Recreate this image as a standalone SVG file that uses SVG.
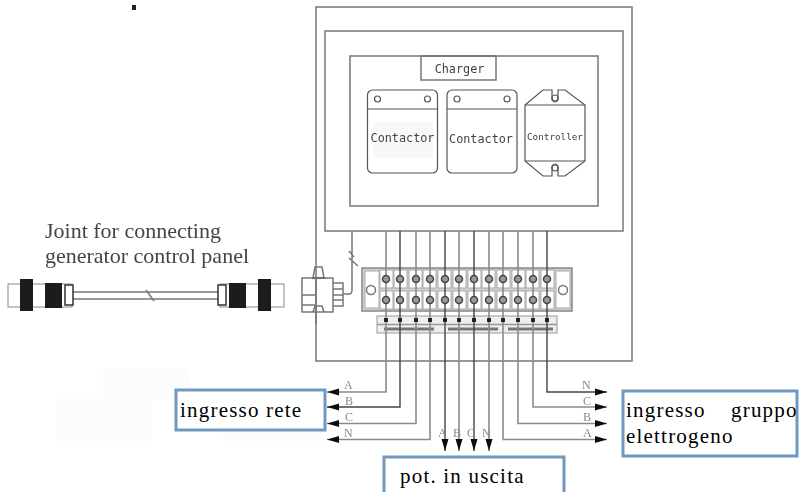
<svg xmlns="http://www.w3.org/2000/svg" width="800" height="492" viewBox="0 0 800 492">
<defs>
<style>
.b{fill:none;stroke:#777;stroke-width:1.5}
.d{fill:none;stroke:#555;stroke-width:1.2}
.w{fill:none;stroke:#8a8a8a;stroke-width:1.6}
.k{fill:none;stroke:#444;stroke-width:1.4}
.blk{fill:#1c1c1c}
.mono{font-family:"DejaVu Sans Mono","Liberation Mono",monospace;fill:#444}
.ser{font-family:"Liberation Serif","Times New Roman",serif}
.lab{font-size:21px;fill:#000;letter-spacing:1.2px}
.sm{font-size:12px;fill:#888}
.box{fill:#fff;stroke:#6f99c0;stroke-width:3}
.t{fill:#fff;stroke:#aaa;stroke-width:1}
.s{fill:#d0d0d0;stroke:#888;stroke-width:1.5}
</style>
<filter id="soft" x="-5%" y="-5%" width="110%" height="110%"><feGaussianBlur stdDeviation="0.5"/></filter>
<marker id="ah" markerUnits="userSpaceOnUse" markerWidth="13" markerHeight="8" refX="12" refY="4" orient="auto"><path d="M0 0.500L12 4L0 7.500z" fill="#111"/></marker>
</defs>
<rect width="800" height="492" fill="#fff"/>
<g fill="#fcfcfc"><rect x="103" y="369" width="87" height="30"/><rect x="57" y="399" width="94" height="42"/><rect x="223" y="431" width="100" height="10"/></g>
<g filter="url(#soft)">
<rect x="132" y="5" width="4" height="5" fill="#222"/>
<g id="enclosure"><rect class="b" x="316" y="7" width="316" height="354"/><rect class="b" x="325" y="31" width="298" height="200"/><rect class="b" x="350" y="56" width="248" height="150"/></g>
<g id="charger"><rect class="b" x="421" y="56" width="75" height="24" fill="#fff"/><text class="mono" x="459.500" y="73" font-size="11.800" text-anchor="middle">Charger</text></g>
<g id="contactor1"><rect class="d" x="367.500" y="90" width="70" height="83" rx="5"/><path class="d" d="M367.500 109H437.500"/><circle class="d" cx="377.500" cy="99" r="3"/><circle class="d" cx="427.500" cy="99" r="3"/><rect x="373" y="122" width="60" height="36" fill="#f8f8f8"/><text class="mono" x="402.500" y="142" font-size="11.800" text-anchor="middle">Contactor</text></g>
<g id="contactor2"><rect class="d" x="447" y="90" width="70" height="83" rx="5"/><path class="d" d="M447 109H517"/><circle class="d" cx="457" cy="99" r="3"/><circle class="d" cx="507" cy="99" r="3"/><text class="mono" x="481" y="143" font-size="11.800" text-anchor="middle">Contactor</text></g>
<g id="controller"><path class="d" d="M525 105L543 90H552V100Q555 104 558 100V90H565L585 105V161L565 176H558V166Q555 162 552 166V176H543L525 161Z"/><path class="d" d="M525 105H585M525 161H585"/><circle class="d" cx="555" cy="98" r="3"/><circle class="d" cx="555" cy="168" r="3"/><text class="mono" x="555" y="140" font-size="9.300" text-anchor="middle">Controller</text></g>
<g id="cable"><path class="b" d="M73 292H218M73 299H218M146 290L154 301"/><rect x="8" y="284" width="64" height="23" fill="#fff" stroke="#888"/><rect x="20" y="279" width="13" height="32" class="blk"/><rect x="45" y="283" width="17" height="25" class="blk"/><rect x="65" y="285" width="8" height="20" fill="#fff" stroke="#333" stroke-width="1.500"/><rect x="220" y="284" width="64" height="23" fill="#fff" stroke="#888"/><rect x="229" y="283" width="17" height="25" class="blk"/><rect x="258" y="279" width="13" height="32" class="blk"/><rect x="218" y="285" width="8" height="20" fill="#fff" stroke="#333" stroke-width="1.500"/></g>
<g id="plug"><path class="b" d="M315 267H322L324 278H313ZM313 312L315 306H322L324 312"/><rect class="d" x="302" y="278" width="31" height="34" fill="#fff"/><path class="b" d="M316 278V324M302 295H316M302 305H316"/><path class="b" d="M333 283H343V306H333M333 289H343M333 295H343M333 300H343"/><path class="b" d="M343 294H349Q352 294 352 290V231M349 251L354 257M349 258L358 266"/></g>
<g id="terminal-block"><rect class="s" x="362" y="268" width="210" height="43"/><rect class="t" x="365" y="271" width="14" height="37"/><rect class="t" x="556" y="271" width="14" height="37"/><circle cx="371" cy="290" r="4.500" fill="#fff" stroke="#777" stroke-width="1.500"/><circle cx="563" cy="290" r="4.500" fill="#fff" stroke="#777" stroke-width="1.500"/></g>
<g id="terminals" fill="#fff" stroke="#aaa"><rect x="380" y="270" width="13" height="18"/><rect x="394" y="270" width="13" height="18"/><rect x="409" y="270" width="13" height="18"/><rect x="423" y="270" width="13" height="18"/><rect x="438" y="270" width="13" height="18"/><rect x="453" y="270" width="13" height="18"/><rect x="468" y="270" width="13" height="18"/><rect x="482" y="270" width="13" height="18"/><rect x="497" y="270" width="13" height="18"/><rect x="512" y="270" width="13" height="18"/><rect x="526" y="270" width="13" height="18"/><rect x="541" y="270" width="13" height="18"/><rect x="380" y="291" width="13" height="18"/><rect x="394" y="291" width="13" height="18"/><rect x="409" y="291" width="13" height="18"/><rect x="423" y="291" width="13" height="18"/><rect x="438" y="291" width="13" height="18"/><rect x="453" y="291" width="13" height="18"/><rect x="468" y="291" width="13" height="18"/><rect x="482" y="291" width="13" height="18"/><rect x="497" y="291" width="13" height="18"/><rect x="512" y="291" width="13" height="18"/><rect x="526" y="291" width="13" height="18"/><rect x="541" y="291" width="13" height="18"/></g>
<g id="strip"><rect x="377" y="316" width="180" height="17" fill="#eee" stroke="#999"/><path d="M377 324.500H557" stroke="#999" stroke-width="1.500"/><path d="M384 329H434M448 329H498M508 329H553" stroke="#777" stroke-width="3"/></g>
<g id="connectors">
<path class="w" d="M386 231V392H327" marker-end="url(#ah)"/>
<path class="k" d="M400 231V407H327" marker-end="url(#ah)"/>
<path class="w" d="M416 231V423.500H327" marker-end="url(#ah)"/>
<path class="w" d="M430 231V439.500H327" marker-end="url(#ah)"/>
<path class="k" d="M445 231V451" marker-end="url(#ah)"/>
<path class="w" d="M459 231V451" marker-end="url(#ah)"/>
<path class="k" d="M474 231V451" marker-end="url(#ah)"/>
<path class="w" d="M489 231V451" marker-end="url(#ah)"/>
<path class="w" d="M503 231V439.500H607" marker-end="url(#ah)"/>
<path class="w" d="M518 231V423.500H607" marker-end="url(#ah)"/>
<path class="w" d="M533 231V407H607" marker-end="url(#ah)"/>
<path class="k" d="M547 231V392H607" marker-end="url(#ah)"/>
</g>
<g id="strip-marks" fill="#222"><rect x="384" y="318" width="4" height="4"/><rect x="398" y="318" width="4" height="4"/><rect x="414" y="318" width="4" height="4"/><rect x="428" y="318" width="4" height="4"/><rect x="443" y="318" width="4" height="4"/><rect x="457" y="318" width="4" height="4"/><rect x="472" y="318" width="4" height="4"/><rect x="487" y="318" width="4" height="4"/><rect x="501" y="318" width="4" height="4"/><rect x="516" y="318" width="4" height="4"/><rect x="531" y="318" width="4" height="4"/><rect x="545" y="318" width="4" height="4"/></g>
<g id="screws" fill="#999" stroke="#444" stroke-width="1.500"><circle cx="386" cy="279" r="3.500"/><circle cx="400" cy="279" r="3.500"/><circle cx="416" cy="279" r="3.500"/><circle cx="430" cy="279" r="3.500"/><circle cx="445" cy="279" r="3.500"/><circle cx="459" cy="279" r="3.500"/><circle cx="474" cy="279" r="3.500"/><circle cx="489" cy="279" r="3.500"/><circle cx="503" cy="279" r="3.500"/><circle cx="518" cy="279" r="3.500"/><circle cx="533" cy="279" r="3.500"/><circle cx="547" cy="279" r="3.500"/><circle cx="386" cy="300" r="3.500"/><circle cx="400" cy="300" r="3.500"/><circle cx="416" cy="300" r="3.500"/><circle cx="430" cy="300" r="3.500"/><circle cx="445" cy="300" r="3.500"/><circle cx="459" cy="300" r="3.500"/><circle cx="474" cy="300" r="3.500"/><circle cx="489" cy="300" r="3.500"/><circle cx="503" cy="300" r="3.500"/><circle cx="518" cy="300" r="3.500"/><circle cx="533" cy="300" r="3.500"/><circle cx="547" cy="300" r="3.500"/></g>
<g class="ser sm"><text x="344" y="389">A</text><text x="345" y="405">B</text><text x="345" y="421">C</text><text x="344" y="437">N</text>
<text x="438" y="437">A</text><text x="453" y="437">B</text><text x="467" y="437">C</text><text x="482" y="437">N</text>
<text x="582" y="389">N</text><text x="583" y="405">C</text><text x="583" y="421">B</text><text x="583" y="437">A</text></g>
<g class="ser" font-size="22" fill="#444"><text x="45" y="238">Joint for connecting</text><text x="45" y="263">generator control panel</text></g>
</g>
<g id="ingresso-rete"><rect class="box" x="176" y="390" width="149" height="40"/><text class="ser lab" x="180" y="417">ingresso rete</text></g>
<g id="pot-uscita"><rect class="box" x="384" y="457" width="180" height="40"/><text class="ser lab" x="400" y="483">pot. in uscita</text></g>
<g id="ingresso-gruppo"><rect class="box" x="623" y="391" width="174" height="65"/><text class="ser lab" x="626" y="417">ingresso</text><text class="ser lab" x="731" y="417">gruppo</text><text class="ser lab" x="626" y="443">elettrogeno</text></g>
</svg>
